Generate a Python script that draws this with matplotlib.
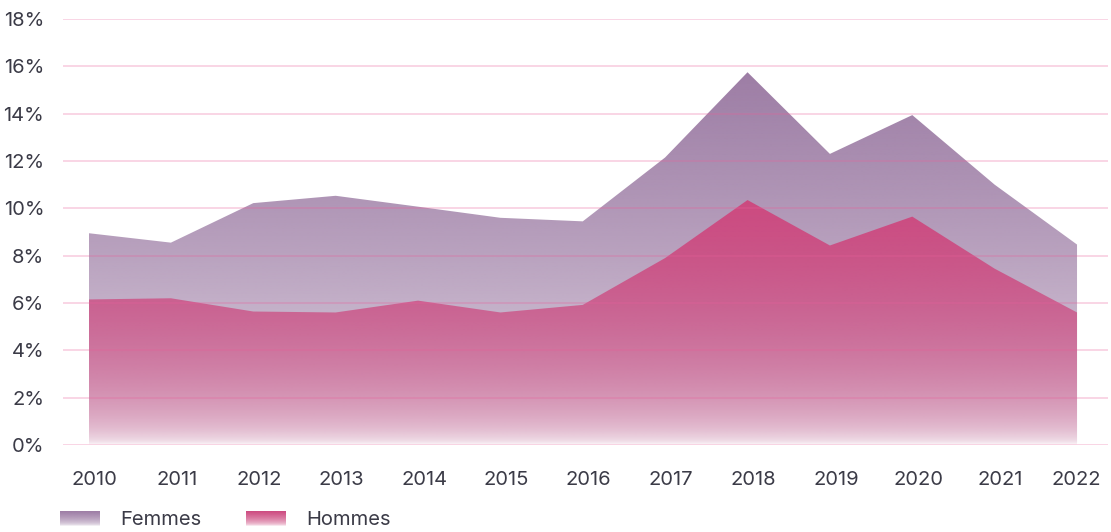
import matplotlib
matplotlib.use("Agg")
import matplotlib.pyplot as plt
import matplotlib.transforms as mtransforms
from matplotlib.patches import Polygon
from matplotlib.colors import to_rgb
import numpy as np

# values (in %)
years = [2010, 2011, 2012, 2013, 2014, 2015, 2016, 2017, 2018, 2019, 2020, 2021, 2022]
femmes = [8.95, 8.55, 10.22, 10.53, 10.07, 9.6, 9.45, 12.15, 15.75, 12.3, 13.94, 11.0, 8.47]
hommes = [6.15, 6.2, 5.64, 5.6, 6.1, 5.6, 5.92, 7.9, 10.35, 8.43, 9.65, 7.45, 5.6]
yticks = [0, 2, 4, 6, 8, 10, 12, 14, 16, 18]

femmes_color = "#9d7da5"
hommes_color = "#cd4a80"
text_color = "#3b3b47"
grid_color = "#e8609a"

plt.rcParams['font.family'] = ['Inter', 'DejaVu Sans']

fig = plt.figure(figsize=(11.11, 5.32), dpi=100)
ax = fig.add_axes([63 / 1111, 1 - 445 / 532, (1108 - 63) / 1111, (445 - 19) / 532])

x = np.arange(len(years))


def gradient_area(ax, x, y, color, z):
    # vertical gradient, solid at the series max and fading to white at 0
    ymax = max(y)
    t = np.linspace(0, 1, 300)[:, None]
    img = np.zeros((300, 2, 4))
    img[..., :3] = to_rgb(color)
    img[..., 3] = np.sqrt(t)
    verts = [(x[0], 0)] + list(zip(x, y)) + [(x[-1], 0)]
    poly = Polygon(verts, closed=True, facecolor='none', edgecolor='none')
    ax.add_patch(poly)
    im = ax.imshow(img, extent=(x[0], x[-1], 0, ymax), origin='lower',
                   aspect='auto', interpolation='bilinear', zorder=z)
    im.set_clip_path(poly)


gradient_area(ax, x, femmes, femmes_color, 1)
gradient_area(ax, x, hommes, hommes_color, 2)

for v in yticks:
    ax.axhline(v, color=grid_color, alpha=0.33, lw=1.1, zorder=3)

ax.set_xlim(-0.31, len(years) - 1 + 0.376)
ax.set_ylim(0, 18)
ax.set_yticks(yticks)
ax.set_yticklabels([f"{v}%" for v in yticks])
ax.set_xticks(x)
ax.set_xticklabels([str(yr) for yr in years])
ax.tick_params(axis='both', length=0, labelsize=14.5, colors=text_color)
ax.tick_params(axis='y', pad=13.5)
ax.tick_params(axis='x', pad=19)
for s in ax.spines.values():
    s.set_visible(False)

# labels sit a little right of the data points, last one stays inside
for i, lab in enumerate(ax.get_xticklabels()):
    dx = 6 / 100 if i < len(years) - 1 else -1 / 100
    lab.set_transform(lab.get_transform() + mtransforms.ScaledTranslation(dx, 0, fig.dpi_scale_trans))

# legend with gradient swatches
def swatch(x0, color, label):
    sax = fig.add_axes([x0 / 1111, 1 - 526 / 532, 40 / 1111, 15 / 532])
    t = np.linspace(0, 1, 50)[:, None]
    img = np.zeros((50, 2, 4))
    img[..., :3] = to_rgb(color)
    img[..., 3] = np.sqrt(t)
    sax.imshow(img, extent=(0, 1, 0, 1), origin='lower', aspect='auto')
    sax.axis('off')
    fig.text((x0 + 60) / 1111, 1 - 520 / 532, label, fontsize=14.5,
             color=text_color, va='center', ha='left')


swatch(60, femmes_color, "Femmes")
swatch(246, hommes_color, "Hommes")

fig.savefig("out.png", dpi=100)
